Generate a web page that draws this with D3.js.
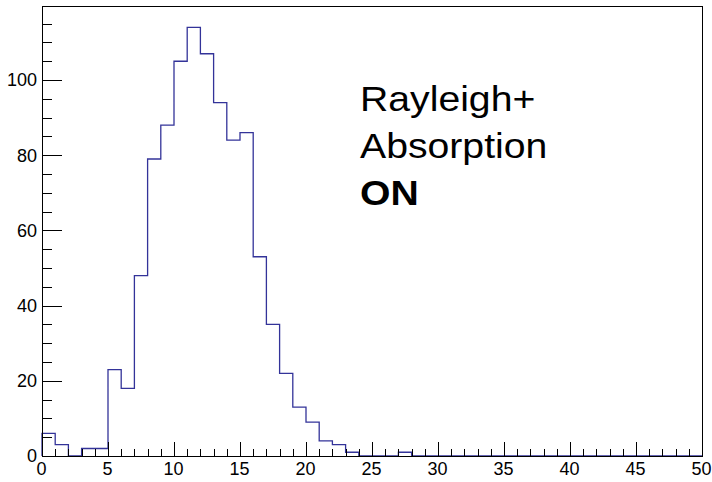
<!DOCTYPE html>
<html>
<head>
<meta charset="utf-8">
<script src="https://cdn.jsdelivr.net/npm/d3@7"></script>
<style>
  html, body { margin: 0; padding: 0; background: #fff; }
  svg { display: block; }
  text { font-family: "Liberation Sans", Arial, Helvetica, sans-serif; }
</style>
</head>
<body>
<svg id="chart" width="712" height="482"></svg>
<script>
// Histogram: 50 bins of width 1 over [0, 50]
const binLow = d3.range(0, 50);
const binWidth = 1;
const counts = [
  6, 3, 0, 2, 2, 23, 18, 48, 79, 88,
  105, 114, 107, 94, 84, 86, 53, 35, 22, 13,
  9, 4, 3, 1, 0, 0, 0, 1, 0, 0,
  0, 0, 0, 0, 0, 0, 0, 0, 0, 0,
  0, 0, 0, 0, 0, 0, 0, 0, 0, 0
];
const xMajorTicks = [0, 5, 10, 15, 20, 25, 30, 35, 40, 45, 50];
const yMajorTicks = [0, 20, 40, 60, 80, 100];
const annotationLines = ["Rayleigh+", "Absorption", "ON"];

const frame = { left: 42, top: 6, right: 702, bottom: 456 };
const yMax = d3.max(counts) * 1.05;

const svg = d3.select("#chart");

const x = d3.scaleLinear().domain([0, 50]).range([frame.left, frame.right]);
const y = d3.scaleLinear().domain([0, yMax]).range([frame.bottom, frame.top]);

// Outline of the histogram as a step path
const pts = [[binLow[0], 0]];
binLow.forEach((lo, i) => {
  pts.push([lo, counts[i]]);
  pts.push([lo + binWidth, counts[i]]);
});
pts.push([binLow[binLow.length - 1] + binWidth, 0]);

const line = d3.line().x(d => x(d[0])).y(d => y(d[1]));
svg.append("path")
  .attr("d", line(pts))
  .attr("fill", "none")
  .attr("stroke", "#333399")
  .attr("stroke-width", 1.3)
  .attr("stroke-linejoin", "miter");

// Minor and major ticks (drawn inward)
const xMinor = d3.range(0, 51, 1).filter(v => v % 5 !== 0);
const yMinor = d3.range(0, 116, 5).filter(v => v % 20 !== 0);

const gxMinor = svg.append("g")
  .attr("transform", `translate(0,${frame.bottom})`)
  .call(d3.axisBottom(x).tickValues(xMinor).tickSize(-7).tickFormat(""));
const gx = svg.append("g")
  .attr("transform", `translate(0,${frame.bottom})`)
  .call(d3.axisBottom(x).tickValues(xMajorTicks).tickSize(-14).tickPadding(6).tickFormat(d3.format("d")));

const gyMinor = svg.append("g")
  .attr("transform", `translate(${frame.left},0)`)
  .call(d3.axisLeft(y).tickValues(yMinor).tickSize(-10).tickFormat(""));
const gy = svg.append("g")
  .attr("transform", `translate(${frame.left},0)`)
  .call(d3.axisLeft(y).tickValues(yMajorTicks).tickSize(-20).tickPadding(5).tickFormat(d3.format("d")));

[gxMinor, gx, gyMinor, gy].forEach(g => {
  g.select(".domain").remove();
  g.selectAll("line").attr("stroke", "#000").attr("stroke-width", 1).attr("shape-rendering", "crispEdges");
  g.selectAll("text").attr("font-size", 18).attr("fill", "#000")
    .attr("font-family", "'Liberation Sans', Arial, Helvetica, sans-serif");
});
gx.selectAll(".tick text").attr("dx", -1);

// Frame
svg.append("rect")
  .attr("x", frame.left)
  .attr("y", frame.top)
  .attr("width", frame.right - frame.left)
  .attr("height", frame.bottom - frame.top)
  .attr("fill", "none")
  .attr("stroke", "#000")
  .attr("stroke-width", 1)
  .attr("shape-rendering", "crispEdges");

// Annotation
const note = svg.append("g").attr("transform", "translate(360,111) scale(1.12,1)");
annotationLines.forEach((t, i) => {
  note.append("text")
    .attr("x", 0)
    .attr("y", i * 47)
    .attr("font-size", 35)
    .attr("font-weight", i === 2 ? "bold" : "normal")
    .attr("fill", "#000")
    .text(t);
});
</script>
</body>
</html>
